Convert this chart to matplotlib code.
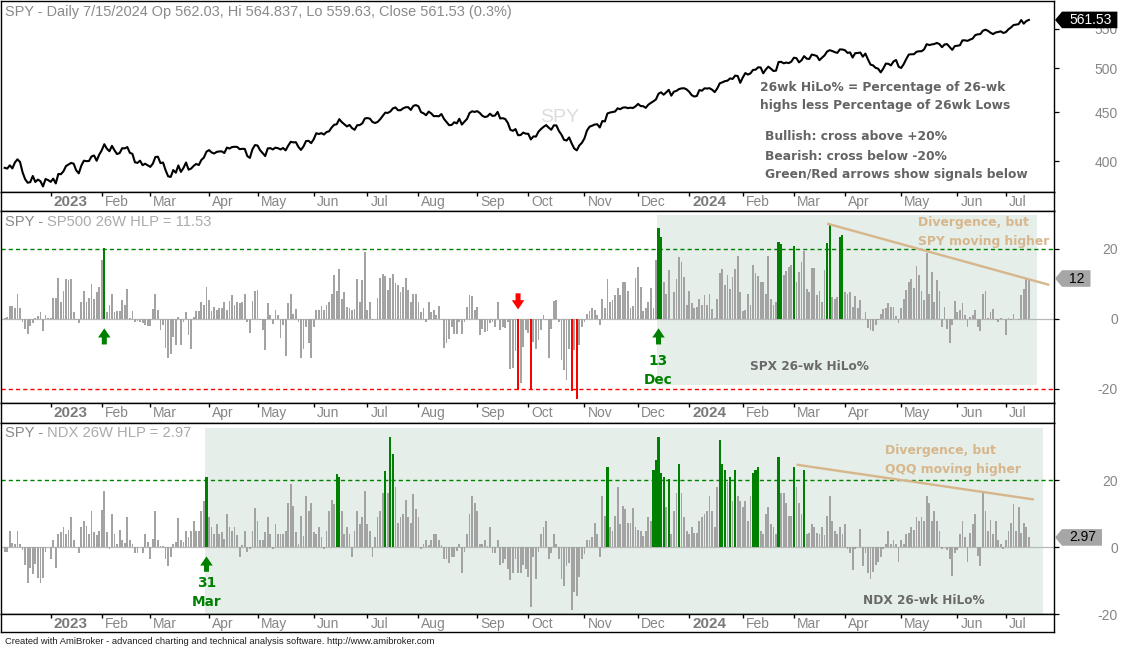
import numpy as np
import pandas as pd
import matplotlib
matplotlib.use("Agg")
import matplotlib.pyplot as plt
from matplotlib import transforms
from matplotlib.path import Path
from matplotlib.ticker import FixedLocator, FixedFormatter, NullLocator

plt.rcParams['font.family'] = ['Liberation Sans', 'DejaVu Sans']
plt.rcParams['axes.unicode_minus'] = False

# ---------------------------------------------------------------- data
start_date = "2022-12-06"
end_date = "2024-07-15"
market_holidays = ["2022-12-26", "2023-01-02", "2023-01-16", "2023-02-20", "2023-04-07",
                   "2023-05-29", "2023-06-19", "2023-07-04", "2023-09-04", "2023-11-23",
                   "2023-12-25", "2024-01-01", "2024-01-15", "2024-02-19", "2024-03-29",
                   "2024-05-27", "2024-06-19", "2024-07-04"]

spy_close = [
    # Dec 2022
    393.83, 393.16, 396.24, 393.28, 398.95, 401.97, 399.40, 389.63, 383.27, 380.02,
    380.54, 386.23, 380.72, 382.91, 381.40, 376.66, 383.44, 382.43,
    # Jan 2023
    380.82, 383.76, 379.38, 388.08, 387.86, 390.58, 395.52, 396.96, 398.50, 397.77,
    391.49, 388.64, 395.88, 400.63, 400.20, 400.35, 404.75, 405.68, 400.59, 406.48,
    # Feb
    410.80, 416.78, 412.35, 409.83, 415.19, 410.65, 407.09, 408.04, 412.83, 412.64,
    413.98, 408.28, 407.26, 399.09, 398.54, 400.66, 396.38, 397.73, 396.26,
    # Mar
    394.74, 397.81, 404.19, 404.47, 398.27, 398.92, 391.56, 385.91, 385.36, 391.73,
    389.28, 396.11, 389.99, 393.74, 398.91, 392.11, 393.17, 395.75, 397.52, 396.49,
    401.35, 403.70, 409.39,
    # Apr
    410.95, 408.67, 407.60, 409.19, 409.61, 409.72, 408.05, 413.47, 412.46, 413.94,
    414.21, 414.14, 411.88, 412.20, 412.07, 405.08, 403.35, 411.71, 415.93,
    # May
    415.51, 410.84, 408.02, 405.13, 412.63, 412.87, 411.59, 413.38, 412.85, 411.59,
    413.01, 410.67, 415.36, 419.23, 418.62, 418.79, 414.09, 411.09, 414.65, 420.02,
    420.18, 417.85,
    # Jun
    421.82, 427.92, 427.10, 428.03, 426.55, 429.13, 429.90, 433.80, 436.66, 437.18,
    442.60, 439.46, 437.18, 434.94, 436.51, 433.21, 431.44, 436.17, 436.39, 438.11,
    443.28,
    # Jul
    443.79, 443.13, 439.66, 438.55, 439.66, 442.46, 446.02, 449.56, 449.28, 450.84,
    454.19, 455.20, 452.18, 452.18, 454.20, 455.44, 455.51, 452.49, 456.92, 457.79,
    # Aug
    456.48, 450.13, 448.84, 446.81, 450.71, 448.75, 445.75, 445.91, 445.65, 448.11,
    442.89, 439.64, 436.29, 436.50, 439.34, 438.15, 443.03, 436.89, 439.97, 442.76,
    449.16, 451.01, 450.35,
    # Sep
    451.19, 449.24, 446.22, 444.85, 445.52, 448.45, 445.99, 446.51, 450.36, 443.37,
    443.63, 442.71, 438.64, 431.39, 430.42, 432.23, 425.88, 426.05, 428.52, 427.48,
    # Oct
    427.31, 421.59, 424.66, 424.50, 429.54, 432.29, 434.54, 436.32, 433.66, 431.50,
    436.04, 436.02, 430.21, 426.43, 421.19, 420.46, 423.63, 417.55, 412.55, 410.68,
    415.59, 418.20,
    # Nov
    422.66, 430.76, 434.69, 435.69, 436.93, 437.25, 433.84, 440.61, 440.19, 448.73,
    449.68, 450.23, 450.79, 454.26, 453.27, 455.02, 455.30, 454.48, 454.93, 454.61,
    456.40,
    # Dec
    459.10, 456.69, 456.60, 454.76, 458.23, 460.20, 461.99, 464.10, 470.50, 472.01,
    469.33, 471.97, 474.84, 468.26, 472.70, 473.65, 475.65, 476.51, 476.69, 475.31,
    # Jan 2024
    472.65, 468.79, 467.28, 467.92, 474.60, 473.88, 476.56, 476.35, 476.68, 474.93,
    472.29, 476.49, 482.43, 483.45, 484.86, 485.39, 488.03, 487.41, 491.27, 490.89,
    482.88,
    # Feb
    489.20, 494.35, 492.55, 493.98, 498.10, 498.32, 501.20, 500.98, 494.08, 498.57,
    502.01, 499.51, 496.76, 497.21, 507.50, 507.85, 505.99, 506.93, 506.26, 508.08,
    # Mar
    512.85, 512.30, 507.18, 509.75, 514.81, 511.72, 511.28, 516.78, 515.97, 514.95,
    509.83, 512.86, 515.71, 520.48, 522.20, 521.21, 519.77, 518.81, 523.17, 523.07,
    # Apr
    522.16, 518.84, 519.41, 513.07, 518.43, 518.72, 519.32, 514.12, 518.00, 510.85,
    504.45, 503.53, 500.55, 499.52, 495.16, 499.72, 505.65, 505.41, 503.49, 508.26,
    510.06, 501.98,
    # May
    500.35, 505.03, 511.29, 516.78, 517.14, 517.19, 520.17, 520.84, 520.91, 523.30,
    529.78, 528.69, 529.45, 530.06, 531.36, 529.83, 525.96, 529.44, 529.81, 526.10,
    522.61, 527.37,
    # Jun
    527.80, 528.39, 534.67, 534.66, 534.01, 535.66, 536.95, 541.36, 542.45, 542.78,
    547.10, 548.49, 547.00, 544.51, 542.74, 544.83, 545.51, 546.37, 544.22,
    # Jul
    545.34, 549.01, 551.46, 554.64, 555.28, 555.82, 561.32, 556.48, 559.99, 561.53,
]

sp500_hlp = [
    0.3, 0.5, 3.7, 3.7, 3.0, 7.1, 3.1, -0.9, -3.0, -4.2,
    -2.0, -1.3, 0.3, 0.9, 2.0, -3.5, 1.0, 0.3, 0.3, 6.0,
    6.0, 11.7, 4.9, 8.1, 11.5, 11.1, 11.5, 2.0, -0.4, -1.3,
    4.9, 7.9, 4.9, 6.0, 10.1, 5.8, 7.7, 9.0, 16.7, 20.1,
    2.0, 4.1, 7.0, 2.0, 2.2, 2.2, 5.3, 4.1, 8.5, 0.3,
    2.3, -0.9, -0.5, -0.9, -1.1, -1.8, -2.0, -2.0, 2.8, 7.0,
    2.4, -3.3, -1.8, -8.3, -11.3, -9.9, -5.1, -7.5, 0.5, -7.5,
    -1.0, 2.0, -4.5, -8.5, 0.5, 2.2, 2.2, 4.9, 3.9, 9.1,
    5.3, 2.2, 3.4, 2.5, 3.0, 3.0, 4.9, 2.5, 5.0, 6.8,
    3.9, 4.9, 4.4, 4.7, 7.2, -0.9, -3.9, 5.0, 7.9, 8.2,
    -0.4, -3.2, -9.0, 4.4, 1.0, -1.6, 2.5, 1.2, -5.4, -1.8,
    -10.6, 4.4, 7.2, 1.5, 2.8, -0.9, -11.3, -8.5, -2.3, -6.8,
    -11.3, -2.3, 2.5, 2.5, 3.7, 2.5, 3.9, 4.7, 7.1, 12.5,
    7.9, 14.2, 5.6, 7.7, 3.4, 3.1, 2.5, 2.8, 11.5, 4.9,
    11.0, 19.0, 2.5, 4.9, -0.4, 0.1, 6.0, 11.7, 12.7, 12.3,
    8.2, 11.7, 12.9, 10.3, 9.8, 7.7, 9.1, 11.7, 8.2, 4.9,
    7.0, 7.0, 4.9, 2.0, 3.0, -0.9, 4.7, 2.0, 2.5, 1.2,
    3.7, -0.4, -8.3, -7.0, -5.6, -2.3, -4.2, -4.2, -0.9, -4.2,
    -0.9, 3.4, 6.8, 6.6, 2.5, 3.4, -4.7, -3.0, -3.7, -3.5,
    -1.3, -0.9, -2.3, 4.7, -3.2, -2.3, -2.6, -0.9, -14.2, -14.0,
    -9.2, -20.4, -18.2, -8.0, -3.2, -4.0, -20.4, -6.6, -8.5, -6.1,
    -3.3, 1.2, -0.4, -11.3, -3.0, 5.0, 5.3, -0.9, -11.8, -14.7,
    -17.5, -8.7, -20.7, -9.0, -23.0, -7.5, -2.3, -0.9, 1.4, 2.2,
    3.0, 2.5, 1.0, -1.8, 5.8, 3.1, 11.3, 4.9, 5.3, 6.8,
    8.7, 6.8, 10.4, 10.4, 7.9, 3.0, 3.7, 11.7, 14.9, 9.1,
    2.2, 3.1, 4.9, 8.9, 3.0, 16.9, 26.0, 23.4, 10.4, 7.2,
    13.9, 0.1, 7.7, 11.5, 17.7, 16.1, 12.0, 3.9, 7.9, 4.4,
    3.0, 3.4, 5.6, 3.9, 6.8, 3.9, 7.0, 2.8, 0.3, 5.6,
    13.0, 14.2, 9.8, 12.5, 8.5, 12.0, 14.2, 18.0, 7.7, 2.2,
    2.5, 7.2, 3.9, 15.3, 13.2, 12.3, 10.6, 10.4, 7.2, 18.0,
    5.6, 3.9, 4.9, 22.0, 21.5, 12.5, 13.6, 14.9, 15.5, 20.9,
    10.6, 13.4, 16.3, 19.3, 8.5, 7.7, 14.4, 14.4, 6.8, 7.9,
    4.9, 13.9, 21.7, 27.0, 6.3, 5.6, 6.3, 23.4, 23.9, 7.7,
    7.0, 7.7, 3.4, 6.6, 3.0, 5.3, 0.1, 2.0, -2.6, -3.2,
    -3.5, -1.8, -0.4, 1.5, 2.8, 3.0, 4.4, 3.4, 3.4, 0.9,
    -1.3, 3.0, 5.6, 8.2, 10.4, 11.3, 8.9, 15.1, 12.5, 8.1,
    5.3, 18.7, 7.2, 13.4, 4.7, 11.0, 7.9, -2.3, 3.4, -2.8,
    -6.8, -1.8, 5.0, 2.0, 2.5, 4.4, 1.0, -2.3, 0.6, 1.0,
    2.5, -2.3, -3.5, 7.0, 7.9, 0.3, 2.0, 2.8, -0.4, -0.9,
    0.3, 0.1, -4.7, 0.3, -0.4, 1.5, -0.1, -0.4, 6.8, 8.5,
    11.5, 11.53,
]

ndx_hlp = [
    -1.4, -1.4, 5.0, 1.4, 1.1, 5.0, 1.1, -0.9, -5.3, -10.7,
    -6.1, -8.1, -5.1, -9.3, -10.7, -9.3, -1.4, 0.2, -3.4, 2.1,
    -6.3, 4.0, 4.7, 6.0, 4.0, 5.3, 9.0, 2.1, 0.2, -1.6,
    6.0, 8.0, 6.5, 4.0, 10.9, 4.5, 3.6, 5.0, 11.2, 16.9,
    4.5, -0.6, 10.0, 4.0, 1.1, 5.3, 2.1, 1.4, 9.0, 2.1,
    1.1, -1.6, -1.6, 0.2, -1.6, 4.0, 1.6, -3.4, 2.6, 10.9,
    2.1, 0.3, 0.3, -3.4, -5.6, -2.9, 1.1, 1.6, 8.7, 2.1,
    1.6, 5.0, 3.1, 5.0, 8.0, 5.0, 5.0, 10.9, 13.9, 21.1,
    9.0, 6.0, 4.0, 7.0, 4.0, 4.5, 2.6, 10.0, 6.0, 5.0,
    6.0, 3.6, -2.9, 0.6, 5.0, -1.4, -0.4, 5.0, 11.9, 8.0,
    2.1, 2.1, 4.5, 9.0, 4.0, -0.6, 7.0, 4.0, 4.0, 4.0,
    5.0, 13.2, 18.8, 12.4, 4.5, 1.1, 9.5, 3.4, 15.2, 10.9,
    13.2, 4.5, 4.0, 6.0, 3.1, -0.4, 5.0, 10.9, 14.2, 12.9,
    22.0, 21.1, 10.9, 4.0, 6.0, 4.0, -2.9, 5.0, 10.9, 7.0,
    9.0, 16.9, 7.0, 5.0, -2.9, 3.1, 9.0, 10.9, 16.2, 22.8,
    16.2, 32.9, 28.0, 18.1, 7.3, 9.0, 10.0, 14.2, 9.0, 7.3,
    15.9, 11.4, 9.0, -0.6, 1.1, 2.1, 0.6, 2.1, 4.0, 4.0,
    2.1, 0.6, -3.6, -3.6, -4.8, -2.9, -2.9, -1.2, 1.1, -7.8,
    -1.4, 4.0, 10.0, 15.2, 13.2, 10.9, 1.1, 1.1, 2.1, 0.3,
    6.0, -1.6, -1.6, 2.1, -5.3, -4.8, -3.6, -6.5, -9.8, -7.8,
    -3.6, -7.8, -7.8, -5.3, -6.5, -8.8, -17.7, -2.9, -9.5, -1.4,
    4.0, 6.0, 8.0, -3.6, -1.6, 4.0, 1.1, -3.6, -9.5, -11.4,
    -5.5, -4.8, -18.6, -13.2, -14.4, -8.8, -3.6, -1.9, 2.1, 2.1,
    3.1, 7.3, 4.0, -2.9, 15.2, 9.3, 24.1, 6.0, 5.0, 9.3,
    18.1, 7.0, 12.4, 11.4, 7.3, 7.3, 11.9, 6.0, 5.3, 5.0,
    3.4, 5.0, 9.0, 8.0, 23.1, 26.0, 32.9, 22.1, 21.1, 12.2,
    20.3, 4.0, 10.9, 16.2, 25.0, 16.2, 9.0, 5.0, 4.0, 6.0,
    4.3, 4.3, 8.0, 9.0, 10.0, 10.9, 15.2, 10.9, 6.0, 18.1,
    32.0, 25.0, 23.1, 19.5, 21.1, 13.9, 23.1, 15.2, 13.9, 12.2,
    13.9, 8.0, 15.2, 22.1, 23.1, 24.1, 5.0, 4.0, 10.0, 12.2,
    7.0, 6.0, 4.0, 27.0, 16.2, 16.2, 13.2, 9.3, 9.3, 24.1,
    18.1, 13.2, 10.0, 23.1, 4.0, 4.3, 7.0, 6.0, 4.3, 4.0,
    6.0, 3.6, 9.3, 15.2, 8.0, 5.0, 4.0, 6.0, 4.0, 7.0,
    -0.6, -1.6, -6.8, -0.4, 0.2, 5.5, -5.5, -1.6, -7.8, -9.5,
    -7.5, -5.3, -4.3, -2.9, -0.4, 1.1, 5.0, 1.1, 2.1, 1.1,
    -4.3, 2.1, 1.1, 4.0, 4.3, 6.0, 5.3, 9.0, 8.0, 9.0,
    8.0, 15.2, 13.2, 8.0, 10.9, 8.0, 5.0, -0.4, 0.2, -0.9,
    -3.4, -8.5, -1.6, -0.9, 4.0, 8.0, 3.1, -4.5, 4.3, 7.0,
    10.0, -2.6, -5.5, 16.2, 10.9, 5.0, 8.3, 4.0, 8.0, 2.1,
    1.1, -0.6, 2.1, 5.0, 7.3, 12.9, 5.0, 12.2, 4.3, 7.3,
    6.0, 2.97,
]

price_ticks = [400, 450, 500, 550]
hlp_ticks = [-20, 0, 20]
bull_level = 20
bear_level = -20
sp500_buy_signals = [39, 256]
sp500_sell_signals = [201]
ndx_buy_signals = [79]
signal_labels = {256: "13\nDec", 79: "31\nMar"}
spx_trend_x = [322, 409]
spx_trend_y = [27.2, 9.7]
ndx_trend_x = [310, 403]
ndx_trend_y = [24.7, 14.3]
spx_zone_x = [255.5, 404.1]
spx_zone_y = [-18.9, 29.7]
ndx_zone_x = [78.5, 406.5]
ndx_zone_y = [-20.0, 35.6]

title_top = "SPY - Daily 7/15/2024 Op 562.03, Hi 564.837, Lo 559.63, Close 561.53 (0.3%)"
title_mid = ["SPY - ", "SP500 26W HLP = 11.53"]
title_bot = ["SPY - ", "NDX 26W HLP = 2.97"]
note_lines = ["26wk HiLo% = Percentage of 26-wk", "highs less Percentage of 26wk Lows",
              "Bullish: cross above +20%", "Bearish: cross below -20%",
              "Green/Red arrows show signals below"]
footer = ("Created with AmiBroker - advanced charting and technical analysis software. "
          "http://www.amibroker.com")

# ---------------------------------------------------------------- calendar
dates = pd.bdate_range(start_date, end_date)
dates = dates[~dates.isin(pd.to_datetime(market_holidays))]
n = min(len(dates), len(spy_close))
dates = dates[:n]
x = np.arange(len(spy_close))
pos = pd.Series(np.arange(n), index=dates)
firsts = pos.groupby([dates.year, dates.month]).first()
month_ticks = []
for (yy, mm), idx in firsts.items():
    if (yy, mm) == (2022, 12):
        continue
    lab = str(yy) if mm == 1 else pd.Timestamp(yy, mm, 1).strftime("%b")
    month_ticks.append((int(idx), lab, mm == 1))

# ---------------------------------------------------------------- layout
W, H = 1123, 647
fig = plt.figure(figsize=(W / 100, H / 100), dpi=100)
fig.patch.set_facecolor("white")
renderer = fig.canvas.get_renderer()

XL, XR = 1.0, 1054.3
PX_BAR, X0 = 2.554, 4.7
xlim = ((XL - X0) / PX_BAR, (XR - X0) / PX_BAR)


def rect(top, bot):
    return [XL / W, 1 - bot / H, (XR - XL) / W, (bot - top) / H]


ax1 = fig.add_axes(rect(0.7, 192.3))
st1 = fig.add_axes(rect(192.3, 210.8))
ax2 = fig.add_axes(rect(210.8, 403.3))
st2 = fig.add_axes(rect(403.3, 422.5))
ax3 = fig.add_axes(rect(422.5, 614.3))
st3 = fig.add_axes(rect(614.3, 632.3))

AXIS_GRAY = "#868686"
GREEN = "#008000"
RED = "#ff0000"
BAR_GRAY = "#a3a3a3"
TAN = "#d7b68c"
ZONE = "#e5eee8"

for a in (ax1, ax2, ax3, st1, st2, st3):
    a.set_xlim(*xlim)
    for sp in a.spines.values():
        sp.set_color("black")
        sp.set_linewidth(1.0)
    a.tick_params(axis="x", bottom=False, top=False, labelbottom=False)

# value-axis ticks on the right, labels right-aligned at x ~ 1118 px
label_pad = (1118 - XR - 5) / (100 / 72)


def right_axis(a, ticks, labels):
    a.yaxis.tick_right()
    a.yaxis.set_major_locator(FixedLocator(ticks))
    a.yaxis.set_minor_locator(NullLocator())
    a.yaxis.set_major_formatter(FixedFormatter(labels))
    a.tick_params(axis="y", which="both", direction="out", length=3.6, width=0.9,
                  pad=label_pad, labelsize=10, labelcolor=AXIS_GRAY, color="black",
                  left=False, right=True)
    for lbl in a.get_yticklabels():
        lbl.set_horizontalalignment("right")


# ---------------------------------------------------------------- price panel
ax1.plot(x, spy_close, color="black", lw=1.5, zorder=3)
ax1.set_yscale("log")
ax1.set_ylim(371.4, 588.0)
right_axis(ax1, price_ticks, [str(t) for t in price_ticks])
ax1.text(560 / W, 1 - 118 / H, "SPY", transform=fig.transFigure, ha="center", va="center",
         fontsize=14, color="#dcdcdc", zorder=0.5)

# ---------------------------------------------------------------- HLP panels


def hlp_panel(a, vals, ylim, zone_x, zone_y, draw_bear):
    vals = np.asarray(vals)
    a.set_ylim(*ylim)
    a.add_patch(plt.Rectangle((zone_x[0], zone_y[0]), zone_x[1] - zone_x[0],
                              zone_y[1] - zone_y[0], facecolor=ZONE, lw=0, zorder=0.5))
    a.axhline(0, color="#b8b8b8", lw=0.9, zorder=1.5)
    a.axhline(bull_level, color=GREEN, lw=1.0, ls=(0, (3, 2.2)), zorder=1.6)
    if draw_bear:
        a.axhline(bear_level, color=RED, lw=1.0, ls=(0, (3, 2.2)), zorder=1.6)
    colors = np.where(vals >= bull_level, GREEN, np.where(vals <= bear_level, RED, BAR_GRAY))
    widths = np.where(colors == BAR_GRAY, 0.7, 0.85)
    a.bar(x[:len(vals)], vals, width=widths, color=colors, linewidth=0, zorder=2)
    right_axis(a, hlp_ticks, [str(t) for t in hlp_ticks])


hlp_panel(ax2, sp500_hlp, (-24.1, 30.86), spx_zone_x, spx_zone_y, True)
hlp_panel(ax3, ndx_hlp, (-20.0, 37.3), ndx_zone_x, ndx_zone_y, False)

ax2.plot(spx_trend_x, spx_trend_y, color=TAN, lw=1.7, zorder=4, solid_capstyle="butt")
ax3.plot(ndx_trend_x, ndx_trend_y, color=TAN, lw=1.7, zorder=4, solid_capstyle="butt")

arrow_style = "simple,head_length=0.55,head_width=0.75,tail_width=0.3"


def signal_arrow(a, idx, up, color):
    if up:
        tip, tail = -2.7, -7.3
    else:
        tip, tail = 2.7, 7.3
    a.annotate("", xy=(idx, tip), xytext=(idx, tail),
               arrowprops=dict(arrowstyle=arrow_style, color=color, lw=0,
                               mutation_scale=12, shrinkA=0, shrinkB=0), zorder=5)


for i in sp500_buy_signals:
    signal_arrow(ax2, i, True, GREEN)
for i in sp500_sell_signals:
    signal_arrow(ax2, i, False, RED)
for i in ndx_buy_signals:
    signal_arrow(ax3, i, True, GREEN)


def signal_text(a, idx, label, y_top):
    l1, l2 = label.split("\n")
    tr = transforms.blended_transform_factory(a.transData, fig.transFigure)
    a.text(idx, 1 - y_top / H, l1, transform=tr, ha="center", va="center",
           family="DejaVu Sans", weight="bold", fontsize=9.8, color=GREEN, zorder=6)
    a.text(idx, 1 - (y_top + 19) / H, l2, transform=tr, ha="center", va="center",
           family="DejaVu Sans", weight="bold", fontsize=9.8, color=GREEN, zorder=6)


signal_text(ax2, 256, signal_labels[256], 360.7)
signal_text(ax3, 79, signal_labels[79], 582.7)

# ---------------------------------------------------------------- date strips
for st in (st1, st2, st3):
    st.set_ylim(0, 1)
    st.set_yticks([])
    st.set_xticks([m[0] for m in month_ticks])
    st.tick_params(axis="x", top=True, bottom=False, direction="in", length=3,
                   width=1.0, color="black", labelbottom=False, labeltop=False)
    tr = transforms.blended_transform_factory(st.transData, st.transAxes) + \
        transforms.ScaledTranslation(3 / 100, 0, fig.dpi_scale_trans)
    for idx, lab, is_year in month_ticks:
        if is_year:
            st.text(idx, 0.47, lab, transform=tr, ha="left", va="center", fontsize=11,
                    weight="bold", color="#7a7a7a")
        else:
            st.text(idx, 0.47, lab, transform=tr, ha="left", va="center", fontsize=10,
                    color=AXIS_GRAY)

# ---------------------------------------------------------------- value boxes


def pentagon(x0, y0, width, height, mutation_size):
    pl, pr, pv, tip = 7.0, 6.0, 1.3, 7.0
    bx0, bx1 = x0 - pl, x0 + width + pr
    by0, by1 = y0 - pv, y0 + height + pv
    verts = [(bx0 - tip, (by0 + by1) / 2), (bx0, by0), (bx1, by0), (bx1, by1), (bx0, by1),
             (bx0 - tip, (by0 + by1) / 2)]
    return Path(verts, closed=True)


def value_box(a, yval, label, fc, tc):
    tr = transforms.blended_transform_factory(fig.transFigure, a.transData)
    a.text(1069 / W, yval, label, transform=tr, ha="left", va="center", fontsize=10,
           color=tc, zorder=10, clip_on=False,
           bbox=dict(boxstyle=pentagon, facecolor=fc, edgecolor="none"))


value_box(ax1, spy_close[-1], f"{spy_close[-1]:.2f}", "black", "white")
value_box(ax2, sp500_hlp[-1], f"{sp500_hlp[-1]:.0f}", "#a6a6a6", "black")
value_box(ax3, ndx_hlp[-1], f"{ndx_hlp[-1]:.2f}", "#a6a6a6", "black")

# ---------------------------------------------------------------- texts


def fit_size(s, width, **kw):
    t = fig.text(0, 0, s, fontsize=10, **kw)
    w = t.get_window_extent(renderer).width
    t.remove()
    return 10 * width / w


def ptext(xp, yp, s, size, **kw):
    return fig.text(xp / W, 1 - yp / H, s, fontsize=size, va="center", **kw)


# titles
sz = fit_size(title_top, 506)
ptext(5, 11.7, title_top, sz, color="#8a8a8a")
sz_m = fit_size("".join(title_mid), 206.7)
ptext(5, 222.3, title_mid[0], sz_m, color="#8a8a8a")
ptext(46.7, 222.3, title_mid[1], sz_m, color="#ababab")
ptext(5, 432.7, title_bot[0], sz_m, color="#8a8a8a")
ptext(46.7, 432.7, title_bot[1], sz_m, color="#ababab")

bold = dict(family="DejaVu Sans", weight="bold")
sz_n = fit_size(note_lines[4], 263, **bold)
note_pos = [(760, 87.3), (760, 106.0), (765.4, 136.7), (765.4, 156.0), (765.4, 174.3)]
for (xp, yp), s in zip(note_pos, note_lines):
    ptext(xp, yp, s, sz_n, color="#646464", **bold)

sz_d = fit_size("SPY moving higher", 131.6, **bold)
ptext(918.4, 222.3, "Divergence, but", sz_d, color=TAN, **bold)
ptext(918.4, 241.0, "SPY moving higher", sz_d, color=TAN, **bold)
ptext(885, 450.7, "Divergence, but", sz_d, color=TAN, **bold)
ptext(885, 469.3, "QQQ moving higher", sz_d, color=TAN, **bold)

sz_l = fit_size("SPX 26-wk HiLo%", 119.5, **bold)
ptext(750, 366.7, "SPX 26-wk HiLo%", sz_l, color="#6a6a6a", **bold)
ptext(862.7, 600.7, "NDX 26-wk HiLo%", sz_l, color="#6a6a6a", **bold)

sz_f = fit_size(footer, 431)
ptext(5, 641.5, footer, sz_f, color="#1e1e1e")

fig.savefig("out.png", dpi=100, facecolor="white")
